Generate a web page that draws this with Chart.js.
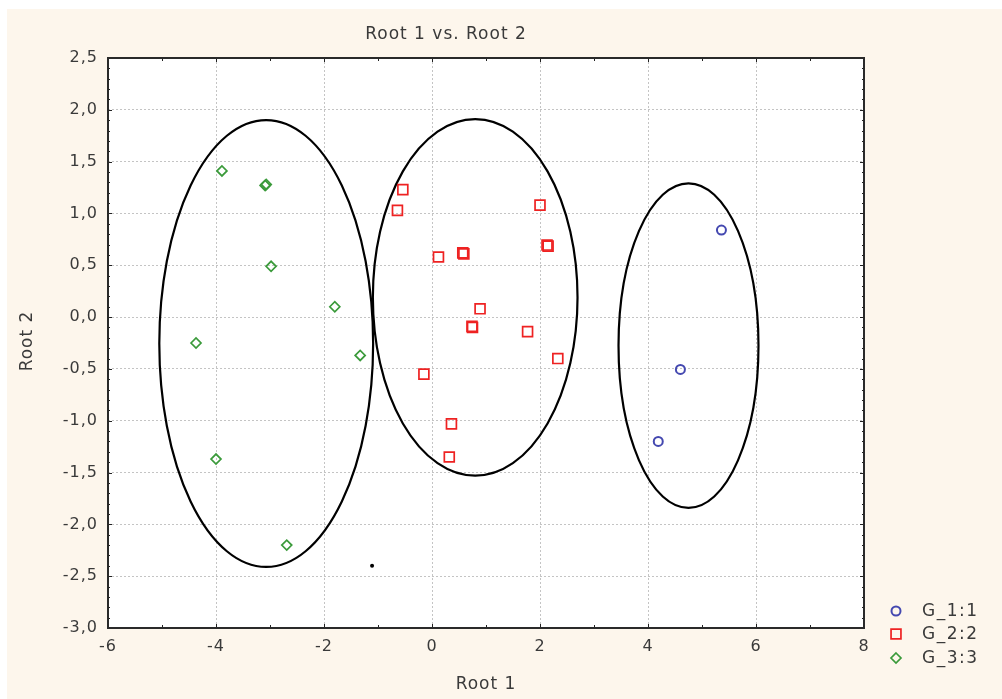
<!DOCTYPE html>
<html><head><meta charset="utf-8">
<script src="https://cdn.jsdelivr.net/npm/chart.js@4/dist/chart.umd.min.js"></script>
<style>html,body{margin:0;padding:0;background:#fff}canvas{display:block}</style>
</head><body><canvas id="c" width="1002" height="699"></canvas>
<script>
const chartTitle = 'Root 1 vs. Root 2';
const xAxisTitle = 'Root 1';
const yAxisTitle = 'Root 2';
const seriesNames = ['G_1:1', 'G_2:2', 'G_3:3'];
const g1X = [5.36, 4.60, 4.19];
const g1Y = [0.84, -0.505, -1.20];
const g2X = [-0.54, -0.64, 2.00, 2.15, 2.13, 0.12, 0.59, 0.57, 0.89, 0.75, 0.74, 1.77, 2.33, -0.15, 0.36, 0.32];
const g2Y = [1.23, 1.03, 1.08, 0.685, 0.695, 0.58, 0.61, 0.62, 0.08, -0.10, -0.09, -0.14, -0.40, -0.55, -1.03, -1.35];
const g3X = [-3.89, -3.09, -3.07, -2.98, -1.80, -4.37, -1.33, -4.00, -2.69];
const g3Y = [1.41, 1.27, 1.28, 0.49, 0.10, -0.25, -0.37, -1.37, -2.20];
const dotX = [-1.11];
const dotY = [-2.40];
const ellipseCX = [-3.07, 0.80, 4.75];
const ellipseCY = [-0.255, 0.19, -0.275];
const ellipseRX = [1.98, 1.895, 1.296];
const ellipseRY = [2.156, 1.72, 1.566];
const xTickValues = [-6, -4, -2, 0, 2, 4, 6, 8];
const yTickValues = [2.5, 2.0, 1.5, 1.0, 0.5, 0.0, -0.5, -1.0, -1.5, -2.0, -2.5, -3.0];

const FONT = 'DejaVu Sans';
const TXT = '#3a3a3a';
const seriesColors = ['#4448b0', '#ee2222', '#3a9a3a'];
const seriesStyles = ['circle', 'rect', 'rectRot'];
const seriesRadius = [4.5, 7, 5];

function pts(xs, ys) { return xs.map((x, i) => ({ x: x, y: ys[i] })); }

const decor = {
  id: 'decor',
  beforeDraw(chart) {
    const ctx = chart.ctx, a = chart.chartArea;
    ctx.save();
    ctx.fillStyle = '#ffffff';
    ctx.fillRect(0, 0, chart.width, chart.height);
    ctx.fillStyle = '#fdf6ec';
    ctx.fillRect(7, 9, chart.width - 7, chart.height - 9);
    ctx.fillStyle = '#ffffff';
    ctx.fillRect(a.left, a.top, a.right - a.left, a.bottom - a.top);
    ctx.restore();
    ctx.letterSpacing = '1px';
  },
  beforeDatasetsDraw(chart) {
    const ctx = chart.ctx, xs = chart.scales.x, ys = chart.scales.y;
    ctx.save();
    ctx.strokeStyle = '#000';
    ctx.lineWidth = 2.2;
    for (let i = 0; i < ellipseCX.length; i++) {
      const cx = xs.getPixelForValue(ellipseCX[i]);
      const cy = ys.getPixelForValue(ellipseCY[i]);
      const rx = Math.abs(xs.getPixelForValue(ellipseCX[i] + ellipseRX[i]) - cx);
      const ry = Math.abs(ys.getPixelForValue(ellipseCY[i] + ellipseRY[i]) - cy);
      ctx.beginPath();
      ctx.ellipse(cx, cy, rx, ry, 0, 0, Math.PI * 2);
      ctx.stroke();
    }
    ctx.restore();
  },
  afterDraw(chart) {
    const ctx = chart.ctx, a = chart.chartArea, xs = chart.scales.x, ys = chart.scales.y;
    ctx.save();
    ctx.strokeStyle = '#222';
    ctx.lineWidth = 1;
    for (let v = -6; v <= 8; v += 1) {
      const p = Math.round(xs.getPixelForValue(v)) + 0.5;
      const len = (v % 2 === 0) ? 4 : 3;
      ctx.beginPath();
      ctx.moveTo(p, a.bottom); ctx.lineTo(p, a.bottom - len);
      ctx.moveTo(p, a.top); ctx.lineTo(p, a.top + len);
      ctx.stroke();
    }
    for (let k = -30; k <= 25; k += 1) {
      const p = Math.round(ys.getPixelForValue(k / 10)) + 0.5;
      const len = (k % 5 === 0) ? 4 : 2;
      ctx.beginPath();
      ctx.moveTo(a.left, p); ctx.lineTo(a.left + len, p);
      ctx.moveTo(a.right, p); ctx.lineTo(a.right - len, p);
      ctx.stroke();
    }
    ctx.strokeStyle = '#2a2a2a';
    ctx.lineWidth = 2;
    ctx.strokeRect(a.left, a.top, a.right - a.left, a.bottom - a.top);
    ctx.fillStyle = TXT;
    ctx.textAlign = 'center';
    ctx.textBaseline = 'middle';
    ctx.letterSpacing = '1px';
    ctx.font = '17px "' + FONT + '"';
    ctx.fillText(chartTitle, 446, 35);
    ctx.fillText(xAxisTitle, 486, 685);
    ctx.save();
    ctx.translate(28, 341);
    ctx.rotate(-Math.PI / 2);
    ctx.fillText(yAxisTitle, 0, 0);
    ctx.restore();
    const rows = [611, 634, 658];
    ctx.textAlign = 'left';
    ctx.letterSpacing = '1.5px';
    for (let i = 0; i < seriesNames.length; i++) {
      const ds = chart.data.datasets[i];
      const y = rows[i], x = 896;
      ctx.strokeStyle = ds.borderColor;
      ctx.lineWidth = ds.pointBorderWidth;
      ctx.beginPath();
      if (ds.pointStyle === 'circle') ctx.arc(x, y, ds.pointRadius, 0, Math.PI * 2);
      else if (ds.pointStyle === 'rect') { const s = ds.pointRadius * Math.SQRT1_2; ctx.rect(x - s, y - s, 2 * s, 2 * s); }
      else { const r = ds.pointRadius; ctx.moveTo(x, y - r); ctx.lineTo(x + r, y); ctx.lineTo(x, y + r); ctx.lineTo(x - r, y); ctx.closePath(); }
      ctx.stroke();
      ctx.fillStyle = TXT;
      ctx.fillText(seriesNames[i], 922, y + 1);
    }
    ctx.restore();
  }
};

const datasets = [
  [g1X, g1Y], [g2X, g2Y], [g3X, g3Y]
].map((d, i) => ({
  label: seriesNames[i],
  data: pts(d[0], d[1]),
  pointStyle: seriesStyles[i],
  pointRadius: seriesRadius[i],
  pointHoverRadius: seriesRadius[i],
  pointBorderWidth: i === 0 ? 2 : 1.7,
  borderColor: seriesColors[i],
  backgroundColor: 'rgba(0,0,0,0)',
  showLine: false
}));
datasets.push({
  label: 'centroid',
  data: pts(dotX, dotY),
  pointStyle: 'circle',
  pointRadius: 2,
  pointBorderWidth: 0,
  borderColor: '#000',
  backgroundColor: '#000',
  showLine: false
});

new Chart(document.getElementById('c'), {
  type: 'scatter',
  data: { datasets: datasets },
  options: {
    responsive: false,
    animation: false,
    devicePixelRatio: 1,
    layout: { padding: { top: 58, right: 138, bottom: 0, left: 0 } },
    plugins: { legend: { display: false }, title: { display: false }, tooltip: { enabled: false } },
    scales: {
      x: {
        type: 'linear', min: -6, max: 8,
        afterBuildTicks(s) { s.ticks = xTickValues.map(v => ({ value: v })); },
        afterFit(s) { s.height = 71; },
        grid: { color: '#c4c4c4', lineWidth: 1, drawTicks: false, borderDash: [2, 2] },
        border: { display: false, dash: [2, 2] },
        ticks: {
          padding: 9, color: TXT, font: { family: FONT, size: 16 },
          callback: v => String(v)
        }
      },
      y: {
        type: 'linear', min: -3, max: 2.5,
        afterBuildTicks(s) { s.ticks = yTickValues.map(v => ({ value: v })); },
        afterFit(s) { s.width = 108; },
        grid: { color: '#c4c4c4', lineWidth: 1, drawTicks: false, borderDash: [2, 2] },
        border: { display: false, dash: [2, 2] },
        ticks: {
          padding: 10, color: TXT, font: { family: FONT, size: 16 },
          callback: v => Number(v).toFixed(1).replace('.', ',')
        }
      }
    }
  },
  plugins: [decor]
});
</script>
</body></html>
